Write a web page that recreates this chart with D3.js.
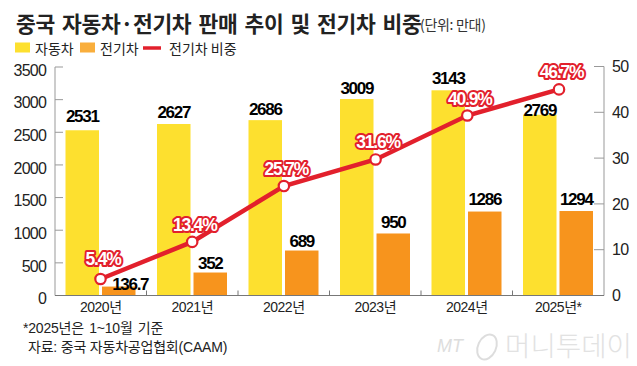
<!DOCTYPE html>
<html><head><meta charset="utf-8">
<script src="https://cdn.jsdelivr.net/npm/d3@7"></script>
<style>html,body{margin:0;padding:0;background:#fff}svg{display:block}</style></head>
<body><svg id="c" width="637" height="366"></svg>
<script>
const years=["2020년","2021년","2022년","2023년","2024년","2025년*"];
const carSales=[2531,2627,2686,3009,3143,2769];
const evSales=[136.7,352,689,950,1286,1294];
const evLabels=["136.7","352","689","950","1286","1294"];
const sharePlotted=[3.6,11.7,23.9,29.7,39.3,45];
const shareLabels=["5.4%","13.4%","25.7%","31.6%","40.9%","46.7%"];
const leftTicks=[0,500,1000,1500,2000,2500,3000,3500];
const rightTicks=[0,10,20,30,40,50];
const YEL="#fde02f",ORA="#f7941d",RED="#e2202c",AX="#999";
const KR="'Liberation Sans','Noto Sans CJK KR',sans-serif",LAT="'Liberation Sans',Arial,sans-serif",KRB="'Noto Sans CJK KR',sans-serif";
const svg=d3.select("#c");
const x=d3.scaleBand().domain(years).range([55,604]);
const xLine=d3.scalePoint().domain(years).range([100.5,559]);
const yL=d3.scaleLinear().domain([0,3500]).range([295.5,67]);
const yR=d3.scaleLinear().domain([0,50]).range([295.5,66.5]);
const bw=33.5, off=[10.5,47];
const carGap=[8,6,5,5,6,-1.5], evGap=[-3.4,4,4,5,7,6];

// bars
const g=svg.append("g");
g.selectAll(".car").data(years).join("rect").attr("x",d=>x(d)+off[0]).attr("width",bw)
 .attr("y",(d,i)=>yL(carSales[i])).attr("height",(d,i)=>295.5-yL(carSales[i])).attr("fill",YEL);
g.selectAll(".ev").data(years).join("rect").attr("x",d=>x(d)+off[1]).attr("width",bw)
 .attr("y",(d,i)=>yL(evSales[i])).attr("height",(d,i)=>295.5-yL(evSales[i])).attr("fill",ORA);

// axes
const la=svg.append("g").attr("transform","translate(55,0)")
 .call(d3.axisLeft(yL).tickValues(leftTicks).tickSize(0).tickPadding(9).tickFormat(d3.format("d")));
la.select(".domain").remove();
la.selectAll("text").attr("font-family",LAT).attr("font-size",16).attr("fill","#222").attr("letter-spacing",-0.8).attr("dy","0.51em");
svg.append("g").selectAll("line").data(leftTicks).join("line")
 .attr("x1",55).attr("x2",63).attr("y1",d=>yL(d)).attr("y2",d=>yL(d)).attr("stroke",AX).attr("stroke-width",1);
svg.append("line").attr("x1",55).attr("x2",55).attr("y1",67).attr("y2",295.5).attr("stroke",AX).attr("stroke-width",1);
const ra=svg.append("g").attr("transform","translate(604,0)")
 .call(d3.axisRight(yR).tickValues(rightTicks).tickSize(0).tickPadding(8).tickFormat(d3.format("d")));
ra.select(".domain").remove();
ra.selectAll("text").attr("font-family",LAT).attr("font-size",16).attr("fill","#222").attr("letter-spacing",-0.6);
svg.append("g").selectAll("line").data(rightTicks).join("line")
 .attr("x1",594).attr("x2",604).attr("y1",d=>yR(d)).attr("y2",d=>yR(d)).attr("stroke",AX).attr("stroke-width",1);
svg.append("line").attr("x1",604).attr("x2",604).attr("y1",66.5).attr("y2",295.5).attr("stroke",AX).attr("stroke-width",1);
// baseline and separators
svg.append("line").attr("x1",55).attr("x2",604).attr("y1",295.5).attr("y2",295.5).attr("stroke","#777").attr("stroke-width",1);
svg.append("g").selectAll("line").data(years.slice(1)).join("line")
 .attr("x1",d=>x(d)).attr("x2",d=>x(d)).attr("y1",290.5).attr("y2",295.5).attr("stroke","#777");
// category labels
svg.append("g").selectAll("text").data(years).join("text")
 .attr("x",d=>x(d)+x.bandwidth()/2).attr("y",312).attr("text-anchor","middle")
 .attr("font-family",KR).attr("font-size",14).attr("fill","#222").attr("letter-spacing",-0.5).text(d=>d);

// value labels
const vl=svg.append("g").attr("font-family",LAT).attr("font-weight",700).attr("font-size",17).attr("fill","#000").attr("letter-spacing",-1.3).attr("text-anchor","middle");
vl.selectAll(".a").data(years).join("text").attr("x",d=>x(d)+off[0]+bw/2).attr("y",(d,i)=>yL(carSales[i])-carGap[i]).text((d,i)=>carSales[i]);
vl.selectAll(".b").data(years).join("text").attr("x",(d,i)=>x(d)+off[1]+bw/2+(i==0?11.5:0)).attr("y",(d,i)=>yL(evSales[i])-evGap[i]).text((d,i)=>evLabels[i]);

// share line
const line=d3.line().x(d=>xLine(d)).y(d=>yR(sharePlotted[years.indexOf(d)]));
svg.append("path").datum(years).attr("d",line).attr("fill","none").attr("stroke",RED).attr("stroke-width",4.5);
svg.append("g").selectAll("circle").data(years).join("circle")
 .attr("cx",d=>xLine(d)).attr("cy",(d,i)=>yR(sharePlotted[i])).attr("r",5.2).attr("fill","#fff").attr("stroke",RED).attr("stroke-width",2.2);
const sl=svg.append("g").attr("font-family",LAT).attr("font-weight",700).attr("font-size",17.5).attr("text-anchor","middle").attr("letter-spacing",-1.2);
const labelAt=(sel,fill,stroke,w)=>sel.selectAll("text."+w).data(years).join("text").attr("class",w)
 .attr("x",d=>xLine(d)+2.5).attr("y",(d,i)=>yR(sharePlotted[i])-(i==0?14:11)).attr("fill",fill).attr("stroke",stroke).attr("stroke-width",w=="o"?4:0)
 .attr("stroke-linejoin","round").text((d,i)=>shareLabels[i]);
labelAt(sl,"#fff",RED,"o");
labelAt(sl,"#fff","none","i");

// title and legend
svg.append("text").attr("x",16).attr("y",32).attr("font-family",KRB).attr("font-weight",700).attr("font-size",21.5).attr("word-spacing",2.5).attr("fill","#222").attr("letter-spacing",-0.3).text("중국 자동차·전기차 판매 추이 및 전기차 비중");
svg.append("text").attr("x",420).attr("y",30).attr("font-family",KRB).attr("font-size",14).attr("fill","#333").attr("letter-spacing",-0.3).text("(단위: 만대)");
svg.append("rect").attr("x",15).attr("y",42.5).attr("width",15).attr("height",10).attr("fill",YEL);
svg.append("text").attr("x",35).attr("y",53.5).attr("font-family",KRB).attr("font-size",14).attr("fill","#222").text("자동차");
svg.append("rect").attr("x",80).attr("y",42.5).attr("width",15).attr("height",10).attr("fill","#f9ae3c");
svg.append("text").attr("x",100).attr("y",53.5).attr("font-family",KRB).attr("font-size",14).attr("fill","#222").text("전기차");
svg.append("line").attr("x1",143).attr("x2",161).attr("y1",48).attr("y2",48).attr("stroke",RED).attr("stroke-width",3.5);
svg.append("text").attr("x",169).attr("y",53.5).attr("font-family",KRB).attr("font-size",14).attr("fill","#222").text("전기차 비중");

// notes
svg.append("text").attr("x",23).attr("y",333).attr("font-family",KR).attr("font-size",14).attr("word-spacing",1.5).attr("letter-spacing",-0.2).attr("fill","#222").text("*2025년은 1~10월 기준");
svg.append("text").attr("x",28).attr("y",352).attr("font-family",KR).attr("font-size",14).attr("letter-spacing",-0.2).attr("fill","#222").text("자료: 중국 자동차공업협회(CAAM)");

// watermark
svg.append("text").attr("x",437).attr("y",352).attr("font-family",LAT).attr("font-style","italic").attr("font-size",18).attr("fill","#ddd").text("MT");
svg.append("ellipse").attr("cx",487).attr("cy",347).attr("rx",9).attr("ry",13).attr("fill","none").attr("stroke","#ddd").attr("stroke-width",2).attr("transform","rotate(25 487 347)");
svg.append("text").attr("x",505).attr("y",356).attr("font-family",KRB).attr("font-weight",300).attr("font-size",27).attr("fill","#e2e2e2").attr("textLength",127).attr("lengthAdjust","spacingAndGlyphs").text("머니투데이");
</script></body></html>
